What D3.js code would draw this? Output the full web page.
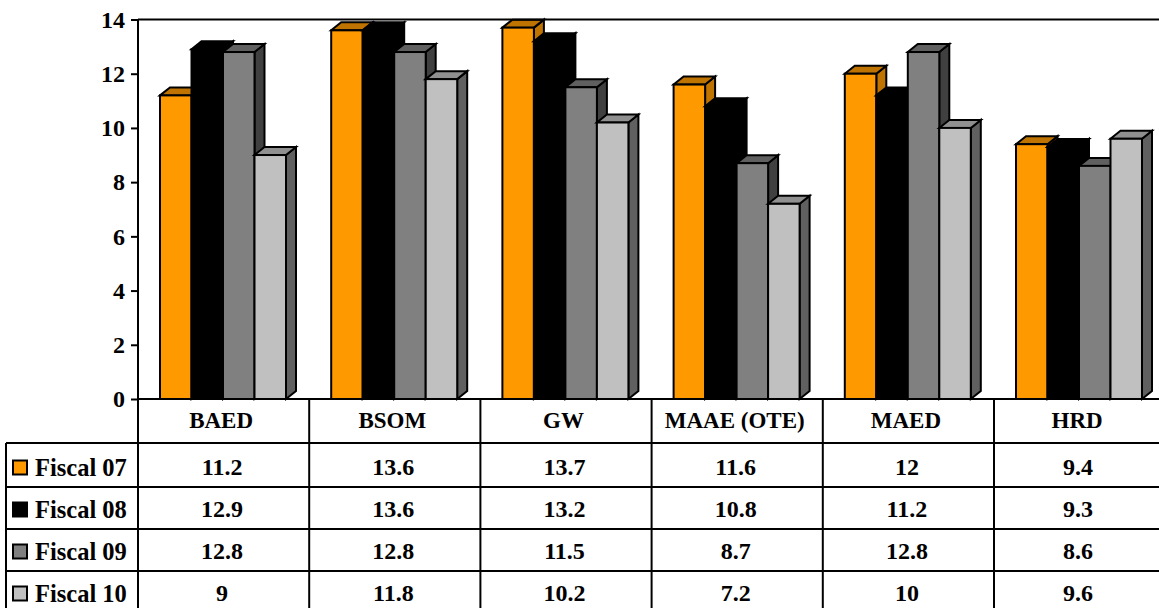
<!DOCTYPE html>
<html>
<head>
<meta charset="utf-8">
<script src="https://d3js.org/d3.v7.min.js"></script>
<style>
  body { margin: 0; background: #fff; }
  svg { display: block; }
  text { font-family: "Liberation Serif", serif; font-weight: bold; fill: #000; }
</style>
</head>
<body>
<div id="chart"></div>
<script>
// data
var categories = ["BAED", "BSOM", "GW", "MAAE (OTE)", "MAED", "HRD"];
var seriesNames = ["Fiscal 07", "Fiscal 08", "Fiscal 09", "Fiscal 10"];
var fiscal07 = [11.2, 13.6, 13.7, 11.6, 12, 9.4];
var fiscal08 = [12.9, 13.6, 13.2, 10.8, 11.2, 9.3];
var fiscal09 = [12.8, 12.8, 11.5, 8.7, 12.8, 8.6];
var fiscal10 = [9, 11.8, 10.2, 7.2, 10, 9.6];
var seriesValues = [fiscal07, fiscal08, fiscal09, fiscal10];
var yTicks = [0, 2, 4, 6, 8, 10, 12, 14];

// front, top and side colours of each series
var frontColors = ["#ff9900", "#000000", "#808080", "#c0c0c0"];
var topColors = ["#bf7300", "#000000", "#606060", "#909090"];
var sideColors = ["#bf7300", "#000000", "#404040", "#606060"];

var width = 1159, height = 608;
var depthX = 10, depthY = 8;

var svg = d3.select("#chart").append("svg")
  .attr("width", width)
  .attr("height", height);

var x = d3.scaleBand().domain(categories).range([138, 1165.2]);
var y = d3.scaleLinear().domain([0, 14]).range([399, 19.5]);
var xBar = d3.scaleBand().domain(seriesNames).range([22, 148]);
var rowY = d3.scaleBand().domain(seriesNames).range([445, 613]);

/***** bars *****/
var groups = svg.selectAll("g.cat")
  .data(categories)
  .enter().append("g")
    .attr("class", "cat")
    .attr("transform", function(d) { return "translate(" + x(d) + ",0)"; });

groups.each(function(cat, c) {
  var g = d3.select(this);
  seriesNames.forEach(function(name, s) {
    var x0 = xBar(name), x1 = x0 + xBar.bandwidth();
    var y0 = y(seriesValues[s][c]), yb = y(0);

    g.append("path") // side
      .attr("d", d3.line()([[x1, y0], [x1 + depthX, y0 - depthY], [x1 + depthX, yb - depthY], [x1, yb]]) + "Z")
      .attr("fill", sideColors[s])
      .attr("stroke", "#000")
      .attr("stroke-width", 2);
    g.append("path") // top
      .attr("d", d3.line()([[x0, y0], [x0 + depthX, y0 - depthY], [x1 + depthX, y0 - depthY], [x1, y0]]) + "Z")
      .attr("fill", topColors[s])
      .attr("stroke", "#000")
      .attr("stroke-width", 2);
    g.append("rect")
      .attr("x", x0)
      .attr("y", y0)
      .attr("width", xBar.bandwidth())
      .attr("height", yb - y0)
      .attr("fill", frontColors[s])
      .attr("stroke", "#000")
      .attr("stroke-width", 2);
  });
});

/***** y axis *****/
var yAxis = svg.append("g")
  .attr("transform", "translate(138,0)")
  .call(d3.axisLeft(y).tickValues(yTicks).tickSize(7).tickPadding(6).tickFormat(d3.format("d")));
yAxis.selectAll("text").style("font-size", "24px").attr("dy", "0.32em");
yAxis.selectAll("line").attr("stroke", "#000").attr("stroke-width", 2);
yAxis.select(".domain").attr("stroke", "#000").attr("stroke-width", 2).attr("d", "M0," + y(14) + "V" + y(0));

// top line and zero line run the full width
svg.selectAll("line.hgrid")
  .data([14, 0])
  .enter().append("line")
    .attr("class", "hgrid")
    .attr("x1", 138).attr("x2", width)
    .attr("y1", function(d) { return y(d); })
    .attr("y2", function(d) { return y(d); })
    .attr("stroke", "#000")
    .attr("stroke-width", 2);

/***** data table *****/
var tableLines = svg.append("g").attr("stroke", "#000").attr("stroke-width", 2);

// first row is a little taller than the others
function rowLine(d, i) { return i == 0 ? rowY(d) - 2 : rowY(d); }

tableLines.selectAll("line.row")
  .data(seriesNames)
  .enter().append("line")
    .attr("class", "row")
    .attr("x1", 6).attr("x2", width)
    .attr("y1", rowLine)
    .attr("y2", rowLine);

tableLines.selectAll("line.col")
  .data(categories)
  .enter().append("line")
    .attr("class", "col")
    .attr("x1", function(d) { return x(d); })
    .attr("x2", function(d) { return x(d); })
    .attr("y1", 399).attr("y2", height);

tableLines.append("line")
  .attr("x1", 6).attr("x2", 6)
  .attr("y1", rowY(seriesNames[0]) - 2).attr("y2", height);

// category headers
svg.selectAll("text.head")
  .data(categories)
  .enter().append("text")
    .attr("class", "head")
    .attr("x", function(d) { return x(d) + x.bandwidth() / 2 - 2.5; })
    .attr("y", 420)
    .attr("dy", "0.33em")
    .attr("text-anchor", "middle")
    .style("font-size", "23px")
    .text(function(d) { return d; });

// legend keys and labels
var rows = svg.selectAll("g.tablerow")
  .data(seriesNames)
  .enter().append("g")
    .attr("class", "tablerow")
    .attr("transform", function(d) { return "translate(0," + (rowY(d) + rowY.bandwidth() / 2 + 1.5) + ")"; });

rows.append("rect")
  .attr("x", 13).attr("y", -7)
  .attr("width", 14).attr("height", 14)
  .attr("fill", function(d, i) { return frontColors[i]; })
  .attr("stroke", "#000")
  .attr("stroke-width", 2);

rows.append("text")
  .attr("x", 35)
  .attr("dy", "0.33em")
  .style("font-size", "24.5px")
  .text(function(d) { return d; });

rows.each(function(name, s) {
  d3.select(this).selectAll("text.val")
    .data(seriesValues[s])
    .enter().append("text")
      .attr("class", "val")
      .attr("x", function(d, c) { return x(categories[c]) + x.bandwidth() / 2 - 1.5; })
      .attr("dy", "0.33em")
      .attr("text-anchor", "middle")
      .style("font-size", "24px")
      .text(function(d) { return d; });
});
</script>
</body>
</html>
